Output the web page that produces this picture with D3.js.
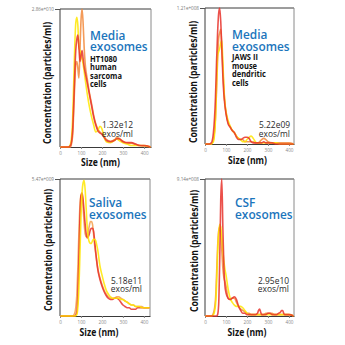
<!DOCTYPE html>
<html>
<head>
<meta charset="utf-8">
<script src="https://cdn.jsdelivr.net/npm/d3@7"></script>
<style>
  html, body { margin: 0; padding: 0; background: #fff; }
  svg { display: block; }
</style>
</head>
<body>
<svg id="chart" width="345" height="345"></svg>
<script>
// ---- Data: nanoparticle tracking size distributions, three replicate runs per sample ----
// Concentrations are stored in units of valueUnit[i] particles/ml.

const sampleTitles = [["Media", "exosomes"], ["Media", "exosomes"], ["Saliva", "exosomes"], ["CSF", "exosomes"]];
const sampleSources = [["HT1080", "human", "sarcoma", "cells"], ["JAWS II", "mouse", "dendritic", "cells"], [], []];
const totalConcentration = ["1.32e12", "5.22e09", "5.18e11", "2.95e10"];
const yTopLabels = ["2.86e+010", "1.21e+008", "5.47e+009", "9.14e+008"];
const yTopValues = [2.86e10, 1.21e8, 5.47e9, 9.14e8];
const valueUnit = [1e10, 1e8, 1e9, 1e8];
const sizeTicks = [0, 100, 200, 300, 400];
const axisLabelY = "Concentration (particles/ml)";
const axisLabelX = "Size (nm)";

// HT1080 media exosomes (x1e10 particles/ml)
const ht1080Size   = [0, 40, 50, 60, 65, 70, 75, 80, 85, 90, 95, 100, 105, 110, 115, 120, 130, 140, 150, 160, 170, 180, 190, 200, 210, 220, 240, 260, 270, 280, 300, 320, 340, 360, 380, 400, 433];
const ht1080Red    = [0, 0, 0.03, 0.34, 0.86, 1.49, 2.0, 2.23, 2.32, 2.06, 1.77, 1.89, 2.0, 1.83, 1.66, 1.54, 1.32, 1.09, 0.86, 0.63, 0.46, 0.34, 0.29, 0.26, 0.2, 0.14, 0.11, 0.14, 0.17, 0.17, 0.11, 0.09, 0.09, 0.06, 0.03, 0.03, 0];
const ht1080Orange = [0, 0, 0, 0.23, 0.72, 1.29, 1.72, 1.77, 1.63, 1.43, 2.0, 2.63, 2.86, 2.57, 2.06, 1.72, 1.4, 1.12, 0.9, 0.66, 0.48, 0.37, 0.31, 0.27, 0.22, 0.16, 0.12, 0.15, 0.2, 0.18, 0.12, 0.08, 0.08, 0.05, 0.03, 0.02, 0];
const ht1080Yellow = [0, 0, 0.06, 0.57, 1.29, 2.06, 2.57, 2.69, 2.52, 2.06, 2.0, 1.89, 1.83, 1.72, 1.57, 1.4, 1.09, 0.83, 0.63, 0.46, 0.31, 0.34, 0.43, 0.37, 0.2, 0.11, 0.09, 0.14, 0.17, 0.14, 0.09, 0.06, 0.03, 0.03, 0.03, 0.03, 0];

// JAWS II media exosomes (x1e8 particles/ml)
const jawsSize   = [0, 20, 30, 40, 50, 55, 60, 65, 70, 75, 80, 85, 90, 95, 100, 110, 120, 130, 140, 150, 160, 170, 180, 190, 200, 210, 220, 230, 240, 250, 260, 270, 280, 290, 300, 320, 340, 360, 380, 400, 424];
const jawsRed    = [0, 0, 0.01, 0.1, 0.42, 0.73, 0.99, 1.16, 1.21, 1.09, 0.85, 0.61, 0.44, 0.34, 0.27, 0.18, 0.15, 0.12, 0.1, 0.06, 0.04, 0.04, 0.05, 0.06, 0.06, 0.05, 0.02, 0.01, 0.01, 0.01, 0.01, 0.01, 0.02, 0.01, 0.01, 0.01, 0, 0, 0, 0, 0];
const jawsOrange = [0, 0, 0, 0.04, 0.24, 0.48, 0.75, 0.94, 0.99, 1.02, 0.87, 0.67, 0.48, 0.36, 0.28, 0.19, 0.15, 0.12, 0.1, 0.07, 0.05, 0.04, 0.04, 0.02, 0.02, 0.02, 0.02, 0.02, 0.01, 0.01, 0.02, 0.04, 0.05, 0.04, 0.02, 0.01, 0.01, 0.01, 0.01, 0.01, 0];
const jawsYellow = [0, 0, 0, 0.02, 0.22, 0.54, 0.79, 0.82, 0.85, 0.9, 0.92, 0.73, 0.51, 0.36, 0.29, 0.21, 0.16, 0.12, 0.1, 0.07, 0.05, 0.04, 0.02, 0.02, 0.04, 0.06, 0.07, 0.05, 0.02, 0.01, 0.01, 0.01, 0.01, 0.01, 0.01, 0.01, 0.01, 0, 0, 0, 0];

// Saliva exosomes (x1e9 particles/ml)
const salivaSize   = [0, 60, 70, 80, 85, 90, 95, 100, 105, 110, 115, 120, 125, 130, 135, 140, 145, 150, 155, 160, 165, 170, 175, 180, 190, 200, 210, 220, 230, 240, 250, 260, 270, 280, 290, 300, 310, 320, 330, 340, 350, 360, 370, 380, 390, 400, 410, 429];
const salivaRed    = [0, 0, 0, 0.16, 0.82, 2.19, 3.94, 4.81, 4.92, 4.65, 4.16, 3.66, 3.28, 3.12, 3.17, 3.28, 3.45, 3.5, 3.5, 3.39, 3.01, 2.57, 2.19, 1.86, 1.48, 1.2, 0.98, 0.82, 0.71, 0.66, 0.66, 0.71, 0.71, 0.66, 0.55, 0.44, 0.38, 0.33, 0.33, 0.27, 0.27, 0.27, 0.33, 0.33, 0.33, 0.33, 0.33, 0.33];
const salivaOrange = [0, 0, 0.11, 0.82, 1.91, 3.28, 4.38, 4.81, 4.87, 4.38, 3.72, 3.28, 3.17, 3.17, 3.39, 3.61, 3.77, 3.77, 3.66, 3.28, 2.84, 2.52, 2.19, 1.91, 1.53, 1.26, 1.04, 0.88, 0.77, 0.71, 0.71, 0.71, 0.77, 0.77, 0.71, 0.66, 0.6, 0.55, 0.49, 0.44, 0.44, 0.38, 0.38, 0.38, 0.38, 0.33, 0.33, 0.33];
const salivaYellow = [0, 0, 0, 0.05, 0.33, 1.09, 2.46, 3.94, 4.92, 5.31, 5.42, 5.03, 4.27, 3.5, 3.12, 2.95, 2.9, 2.9, 3.01, 3.06, 3.06, 3.01, 2.84, 2.63, 2.02, 1.64, 1.31, 1.04, 0.88, 0.77, 0.71, 0.71, 0.71, 0.71, 0.66, 0.66, 0.6, 0.55, 0.49, 0.44, 0.44, 0.38, 0.38, 0.38, 0.33, 0.33, 0.33, 0.33];

// CSF exosomes (x1e8 particles/ml)
const csfSize   = [0, 20, 30, 40, 50, 55, 60, 65, 70, 75, 80, 85, 90, 95, 100, 110, 120, 130, 140, 150, 160, 170, 180, 190, 200, 210, 220, 230, 240, 250, 255, 260, 265, 270, 280, 290, 300, 310, 320, 330, 340, 350, 360, 365, 370, 375, 380, 400, 424];
const csfRed    = [0, 0, 0, 0, 0, 0, 0.09, 0.73, 3.66, 7.77, 9.14, 5.94, 3.29, 2.01, 1.55, 1.19, 1.1, 1.19, 1.28, 1.1, 0.64, 0.37, 0.18, 0.18, 0.09, 0.09, 0.09, 0.09, 0.09, 0.18, 0.37, 0.46, 0.27, 0.09, 0.09, 0.09, 0.18, 0.18, 0.09, 0.09, 0.09, 0.18, 0.27, 0.37, 0.37, 0.18, 0.09, 0.09, 0];
const csfOrange = [0, 0, 0, 0.18, 1.1, 2.74, 4.57, 5.67, 5.94, 5.48, 4.39, 3.2, 2.56, 2.29, 2.01, 1.19, 1.1, 1.19, 1.19, 0.91, 0.64, 0.46, 0.37, 0.27, 0.18, 0.18, 0.09, 0.09, 0.09, 0.09, 0.09, 0.09, 0.09, 0.09, 0.09, 0.18, 0.18, 0.18, 0.18, 0.09, 0.09, 0.09, 0.09, 0.09, 0.09, 0.09, 0.09, 0.09, 0];
const csfYellow = [0, 0, 0, 0.09, 0.73, 2.01, 4.11, 5.48, 6.12, 5.94, 5.3, 4.39, 3.66, 3.11, 2.74, 1.83, 1.19, 0.91, 0.73, 0.64, 0.64, 0.64, 0.55, 0.37, 0.18, 0.09, 0.09, 0.09, 0.09, 0.09, 0.09, 0.09, 0.09, 0.09, 0.09, 0.09, 0.09, 0.09, 0.09, 0.09, 0.09, 0.09, 0.09, 0.09, 0.09, 0.09, 0.09, 0.09, 0];

// ---- Assemble per-panel tables ----
const sizes = [ht1080Size, jawsSize, salivaSize, csfSize];
const runs = [
  [ht1080Orange, ht1080Yellow, ht1080Red],
  [jawsOrange, jawsYellow, jawsRed],
  [salivaOrange, salivaRed, salivaYellow],
  [csfOrange, csfYellow, csfRed]
];
const runColors = [
  ["#f28a3c", "#ffe600", "#e8332c"],
  ["#f28a3c", "#ffe600", "#e8332c"],
  ["#f5a04c", "#e8332c", "#ffe600"],
  ["#f28a3c", "#ffe600", "#e8332c"]
];

// ---- Layout ----
const frames = [
  { l: 60,  r: 151, t: 9,   b: 147, xMax: 433 },
  { l: 205, r: 294, t: 8,   b: 144, xMax: 424 },
  { l: 60,  r: 150, t: 179, b: 316, xMax: 429 },
  { l: 205, r: 294, t: 179, b: 316, xMax: 424 }
];
const textPos = [
  { tx: 90,  ty: [39.5, 51], sy: [61.5, 70, 78.5, 87], vx: 133, vy: [128, 137],   ylx: 50.5,  yly: 83,  xlx: 100.5, xly: 166 },
  { tx: 232, ty: [39, 51],   sy: [60, 68.5, 77, 85.5], vx: 290, vy: [128, 137],   ylx: 197,   yly: 82,  xlx: 247.5, xly: 163.5 },
  { tx: 89,  ty: [207, 219], sy: [],                   vx: 142, vy: [283.5, 292], ylx: 51.5,  yly: 250, xlx: 99,    xly: 335.5 },
  { tx: 235, ty: [207, 219], sy: [],                   vx: 289, vy: [283.5, 292], ylx: 197.5, yly: 251, xlx: 247,   xly: 335.5 }
];

const svg = d3.select("#chart");

frames.forEach((f, i) => {
  const g = svg.append("g");
  const x = d3.scaleLinear().domain([0, f.xMax]).range([f.l, f.r]);
  const y = d3.scaleLinear().domain([0, yTopValues[i]]).range([f.b, f.t]);
  const unit = valueUnit[i];
  const line = d3.line()
    .x(d => x(d[0]))
    .y(d => y(d[1] * unit))
    .curve(d3.curveMonotoneX);

  // bottom size axis (drawn first so the traces sit on top of it)
  const xAxis = d3.axisBottom(x).tickValues(sizeTicks).tickSize(2).tickSizeOuter(0).tickPadding(3);
  const xa = g.append("g").attr("transform", `translate(0,${f.b})`).call(xAxis);
  xa.select(".domain").attr("stroke", "#3a3a3a");
  xa.selectAll(".tick line").attr("stroke", "#888");
  xa.selectAll(".tick text").attr("fill", "#888").style("font-family", "Open Sans").style("font-size", "4.6px");

  // frame
  g.append("line").attr("x1", f.l).attr("x2", f.l).attr("y1", f.t).attr("y2", f.b).attr("stroke", "#3a3a3a").attr("stroke-width", 1);
  g.append("line").attr("x1", f.l).attr("x2", f.r).attr("y1", f.t).attr("y2", f.t).attr("stroke", "#3a3a3a").attr("stroke-width", 1);
  g.append("line").attr("x1", f.r).attr("x2", f.r).attr("y1", f.t).attr("y2", f.b).attr("stroke", "#8a8a8a").attr("stroke-width", 1);

  const clipId = "clip" + i;
  g.append("clipPath").attr("id", clipId)
    .append("rect").attr("x", f.l + 0.5).attr("y", f.t - 1).attr("width", f.r - f.l - 1).attr("height", f.b - f.t + 2);

  // size distribution traces
  const traces = g.append("g").attr("clip-path", `url(#${clipId})`);
  runs[i].forEach((vals, k) => {
    const pts = sizes[i].map((s, j) => [s, vals[j]]);
    traces.append("path")
      .attr("d", line(pts))
      .attr("fill", "none")
      .attr("stroke", runColors[i][k])
      .attr("stroke-width", 1.6)
      .attr("stroke-opacity", 0.85)
      .attr("stroke-linejoin", "round");
  });

  // top concentration tick
  const yAxis = d3.axisLeft(y).tickValues([yTopValues[i]]).tickFormat(() => yTopLabels[i]).tickSize(5).tickPadding(1).tickSizeOuter(0);
  const ya = g.append("g").attr("transform", `translate(${f.l},0)`).call(yAxis);
  ya.select(".domain").remove();
  ya.selectAll(".tick line").attr("stroke", "#555");
  ya.selectAll(".tick text").attr("fill", "#777").style("font-family", "Open Sans").style("font-size", "4.6px");

  const p = textPos[i];
  // sample title
  sampleTitles[i].forEach((s, k) => {
    g.append("text")
      .attr("transform", `translate(${p.tx},${p.ty[k]}) scale(0.95,1)`)
      .text(s)
      .attr("fill", "#1b75bc").style("font-family", "Open Sans").style("font-weight", 600).style("font-size", "12.5px");
  });
  // source description
  sampleSources[i].forEach((s, k) => {
    g.append("text")
      .attr("transform", `translate(${p.tx},${p.sy[k]}) scale(0.78,1)`)
      .text(s)
      .attr("fill", "#111").style("font-family", "Open Sans").style("font-weight", 700).style("font-size", "9.6px");
  });
  // total concentration
  [totalConcentration[i], "exos/ml"].forEach((s, k) => {
    g.append("text")
      .attr("transform", `translate(${p.vx},${p.vy[k]}) scale(0.86,1)`)
      .text(s)
      .attr("text-anchor", "end")
      .attr("fill", "#2a2a2a").style("font-family", "Open Sans").style("font-size", "9.8px");
  });
  // axis titles (condensed horizontally along the reading direction)
  g.append("text")
    .attr("transform", `translate(${p.ylx},${p.yly}) rotate(-90) scale(0.8,1)`)
    .attr("text-anchor", "middle")
    .text(axisLabelY)
    .attr("fill", "#111").style("font-family", "Open Sans").style("font-weight", 700).style("font-size", "10.8px");
  g.append("text")
    .attr("transform", `translate(${p.xlx},${p.xly}) scale(0.8,1)`)
    .attr("text-anchor", "middle")
    .text(axisLabelX)
    .attr("fill", "#111").style("font-family", "Open Sans").style("font-weight", 700).style("font-size", "10.8px");
});
</script>
</body>
</html>
